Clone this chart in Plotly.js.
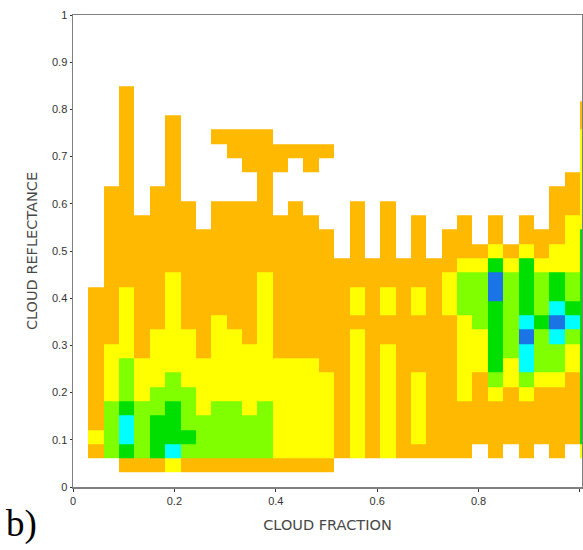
<!DOCTYPE html>
<html>
<head>
<meta charset="utf-8">
<script src="https://cdn.plot.ly/plotly-3.0.1.min.js"></script>
<style>
  html, body { margin: 0; padding: 0; background: #ffffff; }
  #chart { width: 583px; height: 550px; }
</style>
</head>
<body>
<div id="chart"></div>
<script>
// Joint frequency of cloud fraction (x) and cloud reflectance (y).
// Each column is one cloud-fraction bin (width 1/33), written bottom-to-top
// over reflectance bins 1..28 as run-length tokens: class letter + count.
// Frequency classes: '.' none, o lowest, y, l, g, c, b highest.
const fractionBins = 33;
const reflectanceFirstBin = 1;
const reflectanceRows = 28;
const col00 = "";
const col01 = ". o y o10";
const col02 = ". l4 y4 o11";
const col03 = "o g c2 g l3 y5 o14";
const col04 = "o l4 y3 o10";
const col05 = "o g3 l2 y4 o10";
const col06 = "y c g3 l2 y7 o11";
const col07 = "o l g l3 y4 o9";
const col08 = "o l3 y4 o9";
const col09 = "o l4 y6 o8 .4 o";
const col10 = "o l4 y5 o9 .3 o2";
const col11 = "o l3 y5 o10 .2 o3";
const col12 = "o l4 y9 o10";
const col13 = "o y7 o10 .3 o2";
const col14 = "o y7 o11 .3 o";
const col15 = "o y7 o10 .3 o2";
const col16 = "o y6 o10 .5 o";
const col17 = ". o14";
const col18 = ". y9 o y2 o6";
const col19 = ". o14";
const col20 = ". y8 o2 y2 o6";
const col21 = ". o14";
const col22 = ". o y5 o4 y2 o5";
const col23 = ". o14";
const col24 = ". o10 y3 o3";
const col25 = ". o4 y6 l3 y o3";
const col26 = ".2 o5 y3 l4 y o";
const col27 = ". o4 y l g5 b2 g y o2";
const col28 = ".2 o4 y2 l6 y o";
const col29 = ". o4 y l c2 b c g4 y o2";
const col30 = ".2 o4 y l3 g l3 y o2";
const col31 = ". o5 y l2 c b c g2 y2 o4";
const col32 = ".2 o5 y2 l c g l2 y4 o3";
// overcast scenes, cloud fraction exactly 1
const colFull = ". y g15 y7 o2";

const columns = [col00, col01, col02, col03, col04, col05, col06, col07, col08,
  col09, col10, col11, col12, col13, col14, col15, col16, col17, col18, col19,
  col20, col21, col22, col23, col24, col25, col26, col27, col28, col29, col30,
  col31, col32, colFull];

const classCodes = { o: 1, y: 2, l: 3, g: 4, c: 5, b: 6 };
const classColors = ["#ffb900", "#ffff00", "#80ff00", "#00e000", "#00ffff", "#1a74e6"];

function expand(runs) {
  const cells = [];
  runs.split(" ").filter(Boolean).forEach(tok => {
    const n = tok.length > 1 ? parseInt(tok.slice(1), 10) : 1;
    for (let k = 0; k < n; k++) cells.push(tok[0]);
  });
  while (cells.length < reflectanceRows) cells.push(".");
  return cells;
}

const expanded = columns.map(expand);
const z = [];
for (let r = 0; r < reflectanceRows; r++) {
  z.push(expanded.map(col => (col[r] in classCodes ? classCodes[col[r]] : null)));
}

// bin edges: 33 regular fraction bins plus a sliver for fraction = 1
const xEdges = [];
for (let k = 0; k <= fractionBins; k++) xEdges.push(k / fractionBins);
xEdges.push(1.012);
const yEdges = [];
for (let k = reflectanceFirstBin; k <= reflectanceFirstBin + reflectanceRows; k++) {
  yEdges.push(k / fractionBins);
}

const colorscale = [];
classColors.forEach((c, i) => {
  colorscale.push([i / classColors.length, c]);
  colorscale.push([(i + 1) / classColors.length, c]);
});

const trace = {
  type: "heatmap",
  x: xEdges,
  y: yEdges,
  z: z,
  zmin: 0.5,
  zmax: 6.5,
  colorscale: colorscale,
  showscale: false,
  zsmooth: false,
  hoverongaps: false
};

const axisFont = { family: "Liberation Sans, Arial, sans-serif", size: 11, color: "#333333" };
const titleFont = { family: "DejaVu Sans, Verdana, sans-serif", size: 14.5, color: "#474747" };

const layout = {
  width: 583,
  height: 550,
  margin: { l: 73, r: 1, t: 15, b: 63 },
  paper_bgcolor: "#ffffff",
  plot_bgcolor: "#ffffff",
  showlegend: false,
  xaxis: {
    range: [0, 1.004],
    tickvals: [0, 0.2, 0.4, 0.6, 0.8, 1],
    ticktext: ["0", "0.2", "0.4", "0.6", "0.8", "1"],
    ticks: "outside",
    ticklen: 3,
    tickcolor: "#333333",
    tickfont: axisFont,
    showgrid: false,
    zeroline: false,
    showline: true,
    linecolor: "#7f7f7f",
    linewidth: 1.5,
    mirror: true,
    title: { text: "CLOUD FRACTION", font: titleFont, standoff: 14 }
  },
  yaxis: {
    range: [0, 1],
    tickvals: [0, 0.1, 0.2, 0.3, 0.4, 0.5, 0.6, 0.7, 0.8, 0.9, 1],
    ticktext: ["0", "0.1", "0.2", "0.3", "0.4", "0.5", "0.6", "0.7", "0.8", "0.9", "1"],
    ticks: "outside",
    ticklen: 2,
    tickcolor: "#333333",
    tickfont: axisFont,
    showgrid: false,
    zeroline: false,
    showline: true,
    linecolor: "#7f7f7f",
    linewidth: 1.5,
    mirror: true,
    title: { text: "CLOUD REFLECTANCE", font: titleFont, standoff: 11 }
  },
  annotations: [{
    text: "b)",
    xref: "paper", yref: "paper",
    x: -0.136, y: -0.078,
    xanchor: "left", yanchor: "middle",
    showarrow: false,
    font: { family: "Liberation Serif, DejaVu Serif, serif", size: 37, color: "#000000" }
  }]
};

Plotly.newPlot("chart", [trace], layout, { displayModeBar: false, staticPlot: true });
</script>
</body>
</html>
